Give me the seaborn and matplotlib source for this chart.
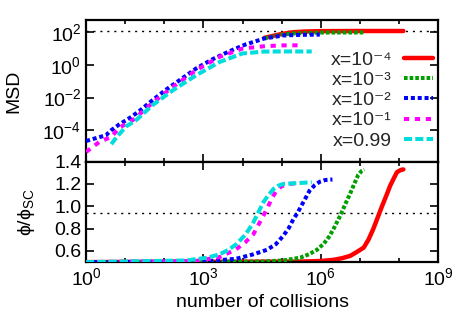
import numpy as np
import pandas as pd
import seaborn as sns
import matplotlib
matplotlib.use("Agg")
import matplotlib.pyplot as plt
from matplotlib.ticker import FixedLocator, LogFormatterSciNotation, NullFormatter

# series order as in the legend
labels = ["x=10⁻⁴", "x=10⁻³", "x=10⁻²", "x=10⁻¹", "x=0.99"]
colors = ["#ff0000", "#00a000", "#0000ff", "#ff00ff", "#00dddd"]

# top panel: MSD vs number of collisions
red_msd_n = [3.6e4, 1e5, 2e5, 4e5, 1e6, 1e7, 1.3e8]
red_msd = [45, 78, 100, 110, 116, 118, 118]
green_msd_n = [3.6e4, 1e5, 2e5, 1e6, 1.26e7]
green_msd = [43, 70, 84, 95, 96]
blue_msd_n = [1, 3.2, 4.4, 7.1, 13, 23, 50, 112, 245, 650, 1.7e3, 4.7e3, 1.2e4,
              3.6e4, 1.1e5, 3.2e5, 9.5e5]
blue_msd = [2.2e-5, 4.9e-5, 1.0e-4, 2.3e-4, 5.6e-4, 1.5e-3, 6.9e-3, 3.1e-2, 0.115,
            0.6, 2.2, 6.9, 17.8, 41, 63, 69, 71]
magenta_msd_n = [1, 2.2, 4.4, 7.1, 15.5, 50, 166, 650, 2.6e3, 1e4, 3.6e4, 1e5, 2.7e5]
magenta_msd = [4.7e-6, 1.95e-5, 3.9e-5, 1.45e-4, 4.1e-4, 4.7e-3, 4.5e-2, 0.47, 3.1,
               10, 13.8, 15.5, 15.8]
cyan_msd_n = [4.4, 5.9, 10.5, 19, 50, 166, 650, 2.6e3, 1e4, 3.6e4, 1e5, 5.9e5]
cyan_msd = [1.4e-5, 3.5e-5, 1.7e-4, 4.1e-4, 3.4e-3, 2.8e-2, 0.23, 1.5, 5.0, 6.5,
            6.6, 6.6]

# bottom panel: phi/phi_SC vs number of collisions
red_phi_n = [1, 3.2e5, 1e6, 2.1e6, 3.5e6, 5.6e6, 7.9e6, 1.26e7, 1.66e7, 2.2e7, 2.8e7,
             3.6e7, 4.7e7, 6e7, 7.4e7, 8.9e7, 1.12e8, 1.3e8]
red_phi = [0.5, 0.505, 0.51, 0.52, 0.535, 0.555, 0.585, 0.63, 0.7, 0.795, 0.89,
           0.99, 1.09, 1.185, 1.25, 1.305, 1.325, 1.33]
green_phi_n = [1, 3.2e4, 1.1e5, 3e5, 5e5, 8e5, 1.2e6, 1.7e6, 2.3e6, 3.2e6, 4.2e6,
               5.6e6, 7.2e6, 9.1e6, 1.1e7, 1.3e7]
green_phi = [0.5, 0.505, 0.515, 0.54, 0.57, 0.61, 0.665, 0.735, 0.82, 0.92, 1.015,
             1.11, 1.2, 1.28, 1.315, 1.33]
blue_phi_n = [1, 1e3, 6.9e3, 1.9e4, 4.2e4, 7.1e4, 1.1e5, 1.5e5, 2e5, 2.6e5, 3.2e5,
              4.2e5, 5.2e5, 7.1e5, 9.5e5, 1.3e6, 2e6]
blue_phi = [0.5, 0.505, 0.53, 0.57, 0.61, 0.66, 0.735, 0.8, 0.885, 0.945, 1.005,
            1.08, 1.14, 1.19, 1.22, 1.235, 1.24]
magenta_phi_n = [1, 630, 2.6e3, 6.9e3, 1.2e4, 1.9e4, 2.8e4, 4.2e4, 5.6e4, 7.4e4,
                 1e5, 1.6e5, 3e5]
magenta_phi = [0.5, 0.51, 0.545, 0.615, 0.68, 0.75, 0.86, 0.975, 1.07, 1.14, 1.18,
               1.2, 1.21]
cyan_phi_n = [1, 363, 1.26e3, 2.6e3, 4.4e3, 6.9e3, 1.15e4, 1.8e4, 2.5e4, 3.4e4,
              4.6e4, 6.2e4, 8.3e4, 1.1e5, 5.9e5]
cyan_phi = [0.5, 0.515, 0.54, 0.57, 0.61, 0.66, 0.74, 0.84, 0.94, 1.035, 1.1, 1.155,
            1.185, 1.2, 1.215]

msd_ref = 115
phi_ref = 0.94

sns.set_style("ticks")
plt.rcParams["font.family"] = ["Liberation Sans", "DejaVu Sans"]
plt.rcParams["font.size"] = 14
plt.rcParams["mathtext.fontset"] = "custom"
plt.rcParams["mathtext.rm"] = "Liberation Sans"
plt.rcParams["mathtext.it"] = "Liberation Sans:italic"

msd_sets = [(red_msd_n, red_msd), (green_msd_n, green_msd), (blue_msd_n, blue_msd),
            (magenta_msd_n, magenta_msd), (cyan_msd_n, cyan_msd)]
phi_sets = [(red_phi_n, red_phi), (green_phi_n, green_phi), (blue_phi_n, blue_phi),
            (magenta_phi_n, magenta_phi), (cyan_phi_n, cyan_phi)]
styles = ["-", (0, (0.9, 0.5)), (0, (1.0, 0.7)), (0, (1.3, 1.4)), (0, (2.0, 0.8))]
widths = [3.2, 2.9, 2.9, 2.9, 2.9]

fig, (ax1, ax2) = plt.subplots(2, 1, figsize=(4.63, 3.24), dpi=100, sharex=True,
                               gridspec_kw={"height_ratios": [141.5, 100.5]})
fig.subplots_adjust(left=0.186, right=0.946, top=0.938, bottom=0.191, hspace=0)

ax1.axhline(msd_ref, color="black", lw=1.0, ls=(0, (1.5, 3.5)), zorder=1)
ax2.axhline(phi_ref, color="black", lw=1.0, ls=(0, (1.5, 3.5)), zorder=1)

for i in range(5):
    df = pd.DataFrame({"n": msd_sets[i][0], "v": msd_sets[i][1]})
    sns.lineplot(data=df, x="n", y="v", ax=ax1, color=colors[i], linestyle=styles[i],
                 lw=widths[i], label=labels[i], estimator=None, sort=False, zorder=2 + i)
    df = pd.DataFrame({"n": phi_sets[i][0], "v": phi_sets[i][1]})
    sns.lineplot(data=df, x="n", y="v", ax=ax2, color=colors[i], linestyle=styles[i],
                 lw=widths[i], estimator=None, sort=False, zorder=2 + i)

for ax in (ax1, ax2):
    ax.set_xscale("log")
    ax.set_xlim(1, 1e9)
    ax.xaxis.set_major_locator(FixedLocator([1, 1e3, 1e6, 1e9]))
    ax.xaxis.set_minor_locator(FixedLocator([10, 100, 1e4, 1e5, 1e7, 1e8]))
    ax.xaxis.set_minor_formatter(NullFormatter())
    ax.tick_params(which="both", direction="in", top=True, right=True, width=1.2,
                   color="black", labelcolor="black")
    ax.tick_params(which="major", length=5.5)
    ax.tick_params(which="minor", length=3)
    for s in ax.spines.values():
        s.set_linewidth(1.6)
        s.set_color("black")
    ax.set_xlabel("")

ax1.set_yscale("log")
ax1.set_ylim(1.2e-6, 5.5e2)
ax1.yaxis.set_major_locator(FixedLocator([1e-4, 1e-2, 1, 1e2]))
ax1.yaxis.set_major_formatter(LogFormatterSciNotation())
ax1.yaxis.set_minor_locator(FixedLocator([]))
ax1.tick_params(axis="x", labelbottom=False)
ax1.set_ylabel("MSD", color="black")
ax1.yaxis.set_label_coords(-0.18, 0.5)

ax2.set_ylim(0.5, 1.4)
ax2.set_yticks([0.6, 0.8, 1.0, 1.2, 1.4])
ax2.set_yticklabels(["0.6", "0.8", "1.0", "1.2", "1.4"])
ax2.xaxis.set_major_formatter(LogFormatterSciNotation())
ax2.set_ylabel("ϕ/ϕ$_{\\mathrm{SC}}$", color="black")
ax2.yaxis.set_label_coords(-0.14, 0.5)
ax2.set_xlabel("number of collisions", color="black")


def make_legend(spacing, top):
    return ax1.legend(loc="upper right", bbox_to_anchor=(0.986, top), frameon=False,
                      markerfirst=False, handlelength=1.5, handletextpad=0.62,
                      labelspacing=spacing, borderaxespad=0, borderpad=0)


def text_center(t, r):
    bb = t.get_window_extent(r)
    return (bb.y0 + bb.y1) / 2


# rows in the reference are ~20.3 px apart, first row centred ~60 px from the top
fs_px = 14 * 100 / 72
spacing = 0.2
top = 0.83
leg = make_legend(spacing, top)
fig.canvas.draw()
r = fig.canvas.get_renderer()
gap = text_center(leg.get_texts()[0], r) - text_center(leg.get_texts()[1], r)
spacing = spacing + (20.3 - gap) / fs_px
leg = make_legend(spacing, top)
fig.canvas.draw()
shift = (324 - 60) - text_center(leg.get_texts()[0], r)
top = top + shift / 141.5
leg = make_legend(spacing, top)

fig.savefig("out.png", dpi=100)
